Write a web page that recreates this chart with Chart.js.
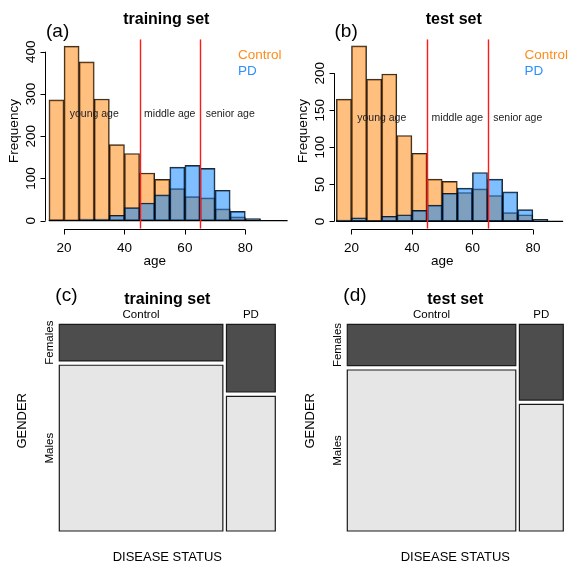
<!DOCTYPE html>
<html>
<head>
<meta charset="utf-8">
<script src="https://cdn.jsdelivr.net/npm/chart.js@4/dist/chart.umd.min.js"></script>
<style>
  html, body { margin: 0; padding: 0; background: #fff; }
  #fig { position: relative; width: 569px; height: 565px; overflow: hidden; }
  #fig canvas { position: absolute; }
</style>
</head>
<body>
<div id="fig">
  <canvas id="histTrain" width="290" height="280" style="left:0;top:0"></canvas>
  <canvas id="histTest" width="290" height="280" style="left:284px;top:0"></canvas>
  <canvas id="mosTrain" width="284" height="285" style="left:0;top:280px"></canvas>
  <canvas id="mosTest" width="285" height="285" style="left:284px;top:280px"></canvas>
</div>
<script>
// age histograms: 5-year bins, lower edges
const binWidth = 5;
const trainBins = [15, 20, 25, 30, 35, 40, 45, 50, 55, 60, 65, 70, 75, 80, 85, 90];
const trainControl = [286, 413, 376, 288, 180, 159, 113, 98, 76, 57, 54, 28, 9, 4, 1, 0];
const trainPD = [2, 1, 4, 4, 13, 31, 42, 61, 127, 131, 124, 72, 22, 5, 0, 0];

const testBins = [15, 20, 25, 30, 35, 40, 45, 50, 55, 60, 65, 70, 75, 80, 85];
const testControl = [165, 237, 192, 199, 116, 92, 57, 54, 39, 44, 35, 12, 9, 0, 0];
const testPD = [2, 5, 1, 7, 9, 15, 22, 38, 45, 66, 57, 40, 16, 3, 0];

const ageTicks = [20, 40, 60, 80];
const trainFreqTicks = [0, 100, 200, 300, 400];
const testFreqTicks = [0, 50, 100, 150, 200];

// age group boundaries and labels
const ageCuts = [45, 65];
const ageGroups = ['young age', 'middle age', 'senior age'];
const ageGroupMid = [30, 55, 75];

// gender by disease status (Control, PD)
const statusLabels = ['Control', 'PD'];
const trainFemales = [388, 214];
const trainMales = [1755, 426];
const testFemales = [256, 122];
const testMales = [995, 204];

const FONT = "'Liberation Sans', Arial, Helvetica, sans-serif";
const controlFill = 'rgba(255,128,0,0.5)';
const pdFill = 'rgba(0,128,255,0.5)';

function text(ctx, str, x, y, font, opts) {
  opts = opts || {};
  ctx.save();
  ctx.font = font;
  ctx.fillStyle = opts.color || '#000';
  ctx.textAlign = opts.align || 'center';
  ctx.textBaseline = 'middle';
  ctx.translate(x, y);
  if (opts.rotate) ctx.rotate(-Math.PI / 2);
  ctx.fillText(str, 0, 0);
  ctx.restore();
}

// R-style decorations for the histograms
function histDecor(cfg) {
  return {
    id: 'histDecor',
    afterDatasetsDraw(chart) {
      const { ctx, chartArea: a, scales: { x, y } } = chart;
      ctx.save();
      ctx.beginPath();
      ctx.rect(a.left, a.top, a.right - a.left, a.bottom - a.top);
      ctx.clip();
      // bottom edges of every bin, empty bins included
      ctx.strokeStyle = '#000';
      ctx.lineWidth = 1.2;
      ctx.beginPath();
      ctx.moveTo(x.getPixelForValue(cfg.bins[0]), y.getPixelForValue(0));
      ctx.lineTo(x.getPixelForValue(cfg.bins[cfg.bins.length - 1] + binWidth), y.getPixelForValue(0));
      ctx.stroke();
      // age group cut-offs
      ctx.strokeStyle = '#ff1a1a';
      ctx.lineWidth = 1.4;
      ageCuts.forEach(v => {
        const px = Math.round(x.getPixelForValue(v)) + 0.5;
        ctx.beginPath();
        ctx.moveTo(px, a.top);
        ctx.lineTo(px, a.bottom);
        ctx.stroke();
      });
      ctx.restore();
      ageGroups.forEach((g, i) => {
        text(ctx, g, x.getPixelForValue(ageGroupMid[i]), y.getPixelForValue(cfg.groupY), '10.5px ' + FONT, { color: '#222' });
      });
    },
    afterDraw(chart) {
      const { ctx, chartArea: a, scales: { x, y } } = chart;
      ctx.save();
      ctx.strokeStyle = '#000';
      ctx.lineWidth = 1;
      // x axis
      const xb = Math.round(a.bottom) + 0.5;
      ctx.beginPath();
      ctx.moveTo(x.getPixelForValue(ageTicks[0]), xb);
      ctx.lineTo(x.getPixelForValue(ageTicks[ageTicks.length - 1]), xb);
      ageTicks.forEach(t => {
        const px = Math.round(x.getPixelForValue(t)) + 0.5;
        ctx.moveTo(px, xb);
        ctx.lineTo(px, xb + 5);
      });
      // y axis
      const yl = Math.round(a.left) + 0.5;
      ctx.moveTo(yl, y.getPixelForValue(cfg.yTicks[0]));
      ctx.lineTo(yl, y.getPixelForValue(cfg.yTicks[cfg.yTicks.length - 1]));
      cfg.yTicks.forEach(t => {
        const py = Math.round(y.getPixelForValue(t)) + 0.5;
        ctx.moveTo(yl, py);
        ctx.lineTo(yl - 5, py);
      });
      ctx.stroke();
      ctx.restore();

      ageTicks.forEach(t => text(ctx, String(t), x.getPixelForValue(t), a.bottom + 19.5, '13.5px ' + FONT));
      cfg.yTicks.forEach(t => text(ctx, String(t), a.left - 13.5, y.getPixelForValue(t), '13.5px ' + FONT, { rotate: true }));
      text(ctx, 'age', (x.getPixelForValue(ageTicks[0]) + x.getPixelForValue(ageTicks[ageTicks.length - 1])) / 2, a.bottom + 33, '13.5px ' + FONT);
      text(ctx, 'Frequency', a.left - 30.5, (a.top + a.bottom) / 2 - 3, '13.5px ' + FONT, { rotate: true });

      text(ctx, cfg.title, (a.left + a.right) / 2, 20, 'bold 16px ' + FONT);
      text(ctx, cfg.tag, a.left + 1, 31.5, '19px ' + FONT, { align: 'left' });

      text(ctx, 'Control', a.right - 49.5, a.top + 16, '13.5px ' + FONT, { align: 'left', color: '#ff8c1a' });
      text(ctx, 'PD', a.right - 49.5, a.top + 31.5, '13.5px ' + FONT, { align: 'left', color: '#2e90ff' });
    }
  };
}

function histChart(id, cfg) {
  const points = vals => vals.map((v, i) => ({ x: cfg.bins[i] + binWidth / 2, y: v }));
  return new Chart(document.getElementById(id), {
    type: 'bar',
    data: {
      datasets: [
        { label: 'Control', data: points(cfg.control), backgroundColor: controlFill, order: 2 },
        { label: 'PD', data: points(cfg.pd), backgroundColor: pdFill, order: 1 }
      ]
    },
    options: {
      responsive: false,
      animation: false,
      layout: { padding: cfg.pad },
      datasets: {
        bar: {
          grouped: false,
          barPercentage: 1,
          categoryPercentage: 1,
          borderColor: 'rgba(0,0,0,0.85)',
          borderWidth: 1,
          borderSkipped: false
        }
      },
      scales: {
        x: { type: 'linear', display: false, offset: false, min: cfg.xMin, max: cfg.xMax,
             ticks: { stepSize: binWidth, includeBounds: false } },
        y: { display: false, min: cfg.yMin, max: cfg.yMax }
      },
      plugins: { legend: { display: false }, tooltip: { enabled: false } },
      events: []
    },
    plugins: [histDecor(cfg)]
  });
}

histChart('histTrain', {
  bins: trainBins, control: trainControl, pd: trainPD, yTicks: trainFreqTicks,
  xMin: 13.7, xMax: 94, yMin: -18.9, yMax: 429.3, groupY: 252,
  pad: { left: 45, top: 39.3, right: 2.4, bottom: 51.3 },
  title: 'training set', tag: '(a)'
});

histChart('histTest', {
  bins: testBins, control: testControl, pd: testPD, yTicks: testFreqTicks,
  xMin: 14.05, xMax: 93.6, yMin: -9.8, yMax: 245.8, groupY: 140,
  pad: { left: 49.5, top: 39.3, right: 0, bottom: 51.3 },
  title: 'test set', tag: '(b)'
});

// mosaic layout in unit coordinates: column width ~ group size, split by gender
const gapX = 0.0167;
const gapY = 0.0208;

function mosaicRects(females, males) {
  const totals = females.map((f, i) => f + males[i]);
  const n = totals.reduce((s, v) => s + v, 0);
  const usableX = 1 - gapX * (totals.length - 1);
  const rects = [];
  let x0 = 0;
  totals.forEach((t, i) => {
    const w = usableX * t / n;
    const hm = (1 - gapY) * males[i] / t;
    rects.push({ col: i, gender: 'Males', x0: x0, x1: x0 + w, y0: 0, y1: hm });
    rects.push({ col: i, gender: 'Females', x0: x0, x1: x0 + w, y0: hm + gapY, y1: 1 });
    x0 += w + gapX;
  });
  return rects;
}

function mosaicDecor(cfg, rects) {
  return {
    id: 'mosaicDecor',
    afterDraw(chart) {
      const { ctx, chartArea: a, scales: { x, y } } = chart;
      const f = '11.5px ' + FONT;
      statusLabels.forEach((s, i) => {
        const r = rects.find(q => q.col === i);
        text(ctx, s, (x.getPixelForValue(r.x0) + x.getPixelForValue(r.x1)) / 2, a.top - 9.3, f);
      });
      rects.filter(q => q.col === 0).forEach(r => {
        text(ctx, r.gender, a.left - 9.3, (y.getPixelForValue(r.y0) + y.getPixelForValue(r.y1)) / 2, f, { rotate: true });
      });
      text(ctx, 'GENDER', a.left - 36.6, a.top + 96.5, '13px ' + FONT, { rotate: true });
      text(ctx, 'DISEASE STATUS', (a.left + a.right) / 2, a.bottom + 26.7, '13px ' + FONT);
      text(ctx, cfg.title, (a.left + a.right) / 2, a.top - 24.3, 'bold 16px ' + FONT);
      text(ctx, cfg.tag, a.left - 4, a.top - 28.5, '19px ' + FONT, { align: 'left' });
    }
  };
}

function mosaicChart(id, cfg) {
  const rects = mosaicRects(cfg.females, cfg.males);
  const datasets = rects.map(r => ({
    label: statusLabels[r.col] + ' ' + r.gender,
    data: [
      { x: r.x0, y: r.y0 }, { x: r.x1, y: r.y0 }, { x: r.x1, y: r.y1 },
      { x: r.x0, y: r.y1 }, { x: r.x0, y: r.y0 }
    ],
    showLine: true,
    fill: 'shape',
    backgroundColor: r.gender === 'Females' ? '#4d4d4d' : '#e6e6e6',
    borderColor: '#1a1a1a',
    borderWidth: 1.2,
    borderJoinStyle: 'miter',
    borderCapStyle: 'square',
    pointRadius: 0,
    tension: 0,
    clip: false
  }));
  return new Chart(document.getElementById(id), {
    type: 'scatter',
    data: { datasets: datasets },
    options: {
      responsive: false,
      animation: false,
      layout: { padding: cfg.pad },
      scales: {
        x: { type: 'linear', display: false, min: 0, max: 1 },
        y: { type: 'linear', display: false, min: 0, max: 1 }
      },
      plugins: { legend: { display: false }, tooltip: { enabled: false } },
      events: []
    },
    plugins: [mosaicDecor(cfg, rects)]
  });
}

mosaicChart('mosTrain', {
  females: trainFemales, males: trainMales,
  pad: { left: 59.3, top: 44.3, right: 8.7, bottom: 34 },
  title: 'training set', tag: '(c)'
});

mosaicChart('mosTest', {
  females: testFemales, males: testMales,
  pad: { left: 63.3, top: 44.3, right: 5.7, bottom: 34 },
  title: 'test set', tag: '(d)'
});
</script>
</body>
</html>
